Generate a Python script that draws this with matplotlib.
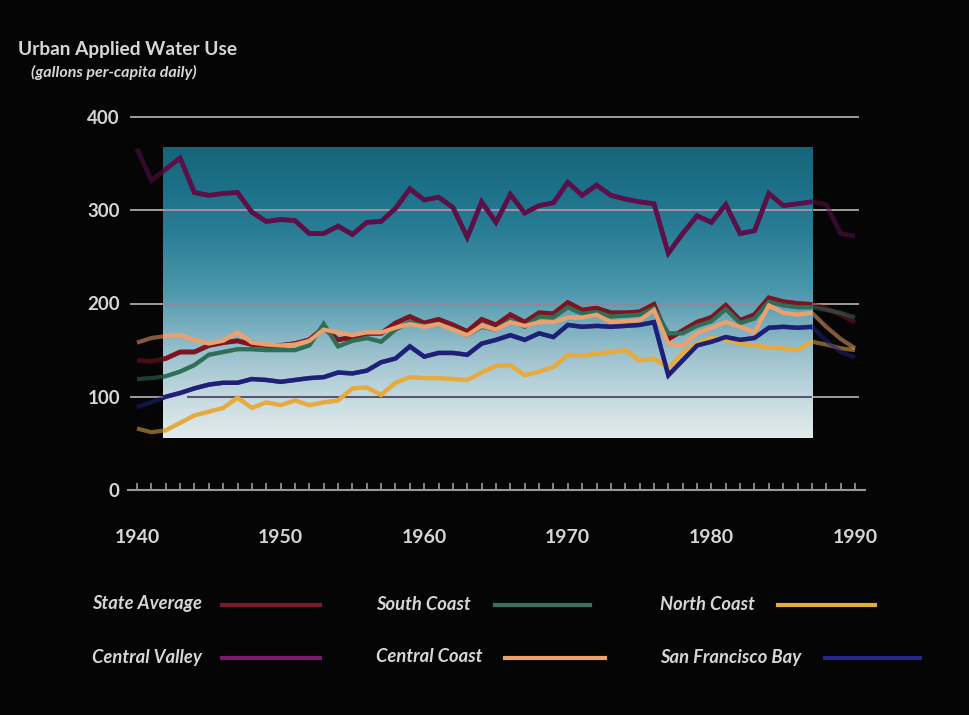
import numpy as np
import matplotlib
matplotlib.use("Agg")
import matplotlib.pyplot as plt
from matplotlib.lines import Line2D
from matplotlib.patches import Rectangle
from matplotlib.colors import LinearSegmentedColormap

years = list(range(1940, 1991))

central_valley = [366, 332, 344, 356, 319, 316, 318, 319, 298, 288,
                  290, 289, 275, 275, 283, 274, 287, 288, 302, 323,
                  311, 314, 303, 271, 309, 287, 317, 297, 305, 308,
                  330, 316, 327, 316, 312, 309, 307, 254, 275, 294,
                  287, 306, 275, 278, 318, 305, 307, 309, 306, 275,
                  272]
state_average = [139, 138, 141, 148, 148, 155, 158, 160, 156, 155,
                 155, 157, 161, 174, 161, 164, 168, 168, 179, 186,
                 179, 183, 177, 170, 183, 177, 188, 180, 190, 189,
                 201, 193, 195, 190, 190, 191, 199, 162, 171, 180,
                 185, 198, 182, 188, 206, 202, 200, 199, 195, 188,
                 180]
south_coast = [119, 120, 122, 127, 134, 145, 148, 151, 151, 150,
               150, 150, 155, 178, 154, 160, 163, 159, 172, 180,
               176, 178, 173, 166, 175, 172, 182, 175, 186, 185,
               196, 189, 191, 186, 187, 188, 195, 168, 168, 176,
               181, 194, 179, 184, 202, 198, 196, 196, 193, 190,
               185]
central_coast = [158, 163, 165, 166, 161, 157, 160, 169, 158, 156,
                 155, 156, 160, 172, 169, 166, 169, 169, 174, 178,
                 175, 178, 172, 166, 176, 172, 180, 176, 180, 180,
                 185, 185, 188, 180, 181, 182, 193, 157, 155, 168,
                 174, 180, 175, 169, 198, 190, 188, 190, 175, 162,
                 152]
north_coast = [66, 62, 64, 72, 80, 84, 88, 99, 88, 94,
               91, 96, 91, 94, 96, 109, 110, 102, 115, 121,
               120, 120, 119, 118, 126, 133, 134, 123, 127, 132,
               145, 144, 146, 148, 150, 139, 141, 131, 147, 157,
               163, 161, 157, 155, 153, 152, 150, 159, 156, 152,
               150]
sf_bay = [89, 94, 100, 104, 109, 113, 115, 115, 119, 118,
          116, 118, 120, 121, 126, 125, 128, 137, 141, 154,
          143, 147, 147, 145, 157, 161, 166, 161, 168, 164,
          177, 175, 176, 175, 176, 177, 180, 123, 139, 155,
          159, 164, 161, 163, 174, 175, 174, 175, 160, 148,
          142]

y_ticks = [0, 100, 200, 300, 400]
x_ticks = [1940, 1950, 1960, 1970, 1980, 1990]

title = "Urban Applied Water Use"
subtitle = "(gallons per-capita daily)"

legend_labels = ["State Average", "South Coast", "North Coast",
                 "Central Valley", "Central Coast", "San Francisco Bay"]

col_cv = "#5c0f48"
col_sa = "#7c1422"
col_sc = "#2f6f55"
col_cc = "#eba06e"
col_nc = "#e6aa3e"
col_sf = "#1f1f78"

series = [
    (state_average, col_sa, 3.4),
    (south_coast, col_sc, 3.0),
    (central_coast, col_cc, 3.0),
    (north_coast, col_nc, 3.0),
    (sf_bay, col_sf, 3.2),
    (central_valley, col_cv, 3.4),
]
legend_colors = ["#7a1830", "#3c6e5c", "#e6aa3e", "#7a1a6a", "#eba06e", "#26268c"]

W, H = 970, 715
fig = plt.figure(figsize=(W / 100, H / 100), dpi=100, facecolor="#050505")

FONT = ["Lato", "DejaVu Sans"]
TXT = "#d6d6d6"

# axes mapped so that 1940->px137, 1990->px855, 0->py490, 400->py117
xl, xr = 1939, 1992
yb, yt = -20, 420
px_per_yr = (855 - 137) / 50
py_per_unit = (490 - 117) / 400
left_px = 137 - (1940 - xl) * px_per_yr
right_px = 855 + (xr - 1990) * px_per_yr
bot_px = 490 + (0 - yb) * py_per_unit
top_px = 117 - (yt - 400) * py_per_unit
ax = fig.add_axes([left_px / W, 1 - bot_px / H, (right_px - left_px) / W, (bot_px - top_px) / H])
ax.set_facecolor("none")
for s in ax.spines.values():
    s.set_visible(False)

# gradient box
stops = [(0.0, "#e2ebec"), (0.12, "#c9dde2"), (0.3, "#98bfcc"),
         (0.5, "#4e98ad"), (0.7, "#2a7f96"), (0.85, "#1d7188"), (1.0, "#156579")]
cmap = LinearSegmentedColormap.from_list("bg", stops)
grad = np.linspace(0, 1, 256).reshape(-1, 1)
bx0, bx1, by0, by1 = 1941.8, 1987.0, 56, 368
ax.imshow(grad, extent=[bx0, bx1, by0, by1], origin="lower", aspect="auto",
          cmap=cmap, zorder=1, interpolation="bicubic")
clip_box = Rectangle((bx0, by0), bx1 - bx0, by1 - by0, transform=ax.transData,
                     facecolor="none", edgecolor="none")
ax.add_patch(clip_box)

# gridlines
for v in [100, 200, 300, 400]:
    ax.hlines(v, 1939.5, 1990.3, color="#a8a8a8", lw=1.3, zorder=0.5)
ax.hlines(300, bx0, bx1, color="#b48ea6", lw=1.3, zorder=2)
ax.hlines(200, bx0, bx1, color="#a87a8e", lw=1.0, alpha=0.6, zorder=2)
ax.hlines(100, 1943.5, bx1, color="#5d5478", lw=1.5, zorder=2)

# baseline with yearly ticks
ax.hlines(0, 1939.3, 1990.8, color="#9a9a9a", lw=1.5, zorder=2)
ax.vlines(years, 0, 8, color="#9a9a9a", lw=1.2, zorder=2)

for vals, c, lw in series:
    ax.plot(years, vals, color=c, lw=lw, alpha=0.55, solid_joinstyle="miter",
            solid_capstyle="butt", zorder=3)
for vals, c, lw in series:
    ln, = ax.plot(years, vals, color=c, lw=lw, solid_joinstyle="miter",
                  solid_capstyle="butt", zorder=4)
    ln.set_clip_path(clip_box)

ax.set_xlim(xl, xr)
ax.set_ylim(yb, yt)
ax.set_xticks(x_ticks)
ax.set_xticklabels([str(t) for t in x_ticks], fontsize=14, fontweight="bold",
                   color=TXT, family=FONT)
ax.set_yticks(y_ticks)
ax.set_yticklabels([str(t) for t in y_ticks], fontsize=13.5, fontweight="bold",
                   color=TXT, family=FONT)
ax.tick_params(axis="x", length=0, pad=15)
ax.tick_params(axis="y", length=0, pad=2)

# title
fig.text(18 / W, 1 - 50 / H, title, fontsize=13.8, fontweight="bold", color=TXT,
         family=FONT, va="center", ha="left")
fig.text(31 / W, 1 - 72 / H, subtitle, fontsize=11.5, fontweight="bold", style="italic",
         color=TXT, family=FONT, va="center", ha="left")

# legend
rows = [604, 657]
text_x = [92, 376, 660]
line_x = [(222, 320), (495, 590), (778, 875), (222, 320), (505, 605), (825, 920)]
for i, lab in enumerate(legend_labels):
    r = rows[i // 3]
    tx = text_x[i % 3]
    fig.text(tx / W, 1 - r / H, lab, fontsize=13.2, fontweight="bold", style="italic",
             color=TXT, family=FONT, va="center", ha="left")
    x0, x1 = line_x[i]
    fig.add_artist(Line2D([x0 / W, x1 / W], [1 - (r + 1) / H, 1 - (r + 1) / H],
                          color=legend_colors[i], lw=3.0, transform=fig.transFigure))

fig.savefig("out.png", dpi=100, facecolor=fig.get_facecolor())
